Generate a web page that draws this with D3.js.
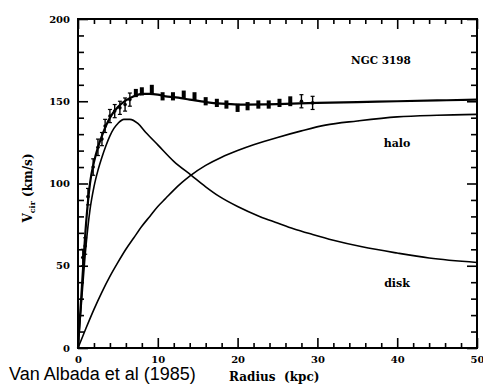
<!DOCTYPE html>
<html>
<head>
<meta charset="utf-8">
<script src="https://cdn.jsdelivr.net/npm/d3@7"></script>
<style>
  body { margin: 0; background: #fff; }
  svg { display: block; }
  .tick text { font-family: "DejaVu Serif", serif; font-weight: bold; font-size: 10px; }
  .lbl { font-family: "DejaVu Serif", serif; font-weight: bold; }
</style>
</head>
<body>
<div id="chart"></div>
<script>
// observed rotation curve (radius kpc, Vcir km/s, error km/s)
var obsRadius = [0.6, 0.9, 1.25, 1.9, 2.5, 3.0, 3.4, 4.0, 4.6, 5.25, 5.9, 6.5, 7.25, 8.0, 9.25,
  10.6, 11.9, 13.25, 14.6, 16.0, 17.4, 18.6, 20.0, 21.25, 22.6, 23.9, 25.25, 26.6, 28.0, 29.4];
var obsV = [55, 62, 92, 110, 122, 127, 135, 141, 144, 146, 148, 151, 155, 156, 157,
  153, 153, 154, 153, 150, 149, 148, 146, 147, 148, 148, 149, 150, 150, 149];
var obsErr = [5, 5, 5, 5, 5, 4, 4, 4, 4, 4, 4, 4, 2.5, 2.5, 3,
  2.5, 2.5, 2.5, 2.5, 2.5, 2.5, 2.5, 2.5, 2.5, 2.5, 2.5, 2.5, 3, 4, 4];

// model curves
var totalR = [0, 0.5, 1, 1.5, 2, 2.5, 3, 3.5, 4, 5, 6, 7, 8, 9, 10, 11, 12, 14, 16, 18, 20, 25, 30, 35, 40, 45, 50];
var totalV = [0, 38, 75, 100, 113, 122, 129, 135, 140, 146.5, 150.5, 153, 154.5, 154.5, 154, 153, 152.5, 151, 149.5, 148.5, 148, 148.3, 149, 149.5, 150, 150.5, 151];

var diskR = [0, 0.5, 1, 1.5, 2, 2.5, 3, 3.5, 4, 4.5, 5, 5.75, 6.5, 7.5, 8.5, 10, 12, 14.2, 16, 17.75, 20, 22.75, 25, 27, 29.4, 32, 35.6, 40, 44, 50];
var diskV = [0, 32, 62, 84, 98, 108, 116, 123, 129, 133.5, 136.5, 139, 139, 136.5, 131, 123.5, 113.5, 105, 98, 92, 86, 80, 76, 72.5, 69, 65.5, 61.5, 57.7, 54.7, 52];

var haloR = [0, 1, 2, 3, 4, 5, 6, 7, 8, 9, 10, 11, 12, 13, 14, 16, 18, 20, 22, 25, 28, 31, 35, 40, 45, 50];
var haloV = [0, 12, 23.5, 34, 43.5, 52, 60, 67, 74, 80, 86, 91, 96, 100.5, 104.5, 111, 116, 120, 123.5, 128, 132, 135.5, 138, 140.5, 141.5, 142];

var xMajor = [0, 10, 20, 30, 40, 50];
var yMajor = [0, 50, 100, 150, 200];

var W = 483, H = 385;
var margin = { top: 19, right: 6, bottom: 37, left: 78 };

var svg = d3.select("#chart").append("svg")
  .attr("width", W)
  .attr("height", H);

var x = d3.scaleLinear().domain([0, 50]).range([margin.left, W - margin.right]);
var y = d3.scaleLinear().domain([0, 200]).range([H - margin.bottom, margin.top]);

var xMinor = d3.range(0, 51, 2).filter(function (d) { return d % 10 !== 0; });
var yMinor = d3.range(0, 201, 10).filter(function (d) { return d % 50 !== 0; });

// frame
svg.append("rect")
  .attr("x", x(0)).attr("y", y(200))
  .attr("width", x(50) - x(0)).attr("height", y(0) - y(200))
  .attr("fill", "none").attr("stroke", "#000").attr("stroke-width", 2);

function styleAxis(g) {
  g.select(".domain").remove();
  g.selectAll(".tick line").attr("stroke", "#000").attr("stroke-width", 1.6);
}

// bottom axis
svg.append("g").attr("transform", "translate(0," + y(0) + ")")
  .call(d3.axisBottom(x).tickValues(xMajor).tickSize(-10).tickPadding(8).tickFormat(d3.format("d")))
  .call(styleAxis);
svg.append("g").attr("transform", "translate(0," + y(0) + ")")
  .call(d3.axisBottom(x).tickValues(xMinor).tickSize(-5).tickFormat(""))
  .call(styleAxis);
// top axis
svg.append("g").attr("transform", "translate(0," + y(200) + ")")
  .call(d3.axisTop(x).tickValues(xMajor).tickSize(-10).tickFormat(""))
  .call(styleAxis);
svg.append("g").attr("transform", "translate(0," + y(200) + ")")
  .call(d3.axisTop(x).tickValues(xMinor).tickSize(-5).tickFormat(""))
  .call(styleAxis);
// left axis
svg.append("g").attr("transform", "translate(" + x(0) + ",0)")
  .call(d3.axisLeft(y).tickValues(yMajor).tickSize(-10).tickPadding(8).tickFormat(d3.format("d")))
  .call(styleAxis);
svg.append("g").attr("transform", "translate(" + x(0) + ",0)")
  .call(d3.axisLeft(y).tickValues(yMinor).tickSize(-6).tickFormat(""))
  .call(styleAxis);
// right axis
svg.append("g").attr("transform", "translate(" + x(50) + ",0)")
  .call(d3.axisRight(y).tickValues(yMajor).tickSize(-10).tickFormat(""))
  .call(styleAxis);
svg.append("g").attr("transform", "translate(" + x(50) + ",0)")
  .call(d3.axisRight(y).tickValues(yMinor).tickSize(-6).tickFormat(""))
  .call(styleAxis);

// model curves
var line = d3.line()
  .x(function (d) { return x(d[0]); })
  .y(function (d) { return y(d[1]); })
  .curve(d3.curveMonotoneX);

function curve(rs, vs, w) {
  svg.append("path")
    .datum(d3.zip(rs, vs))
    .attr("d", line)
    .attr("fill", "none")
    .attr("stroke", "#000")
    .attr("stroke-width", w);
}
curve(diskR, diskV, 1.6);
curve(haloR, haloV, 1.6);
curve(totalR, totalV, 2.2);

// observed points
var obs = d3.zip(obsRadius, obsV, obsErr);
var pts = svg.append("g").selectAll("g").data(obs).enter().append("g");

pts.filter(function (d) { return d[2] < 4; })
  .append("rect")
  .attr("x", function (d) { return x(d[0]) - 2; })
  .attr("y", function (d) { return y(d[1] + d[2]); })
  .attr("width", 4)
  .attr("height", function (d) { return y(d[1] - d[2]) - y(d[1] + d[2]); })
  .attr("fill", "#000");

var capped = pts.filter(function (d) { return d[2] >= 4; });
capped.append("line")
  .attr("x1", function (d) { return x(d[0]); })
  .attr("x2", function (d) { return x(d[0]); })
  .attr("y1", function (d) { return y(d[1] + d[2]); })
  .attr("y2", function (d) { return y(d[1] - d[2]); })
  .attr("stroke", "#000").attr("stroke-width", 1.4);
[1, -1].forEach(function (s) {
  capped.append("line")
    .attr("x1", function (d) { return x(d[0]) - 2; })
    .attr("x2", function (d) { return x(d[0]) + 2; })
    .attr("y1", function (d) { return y(d[1] + s * d[2]); })
    .attr("y2", function (d) { return y(d[1] + s * d[2]); })
    .attr("stroke", "#000").attr("stroke-width", 1.2);
});
capped.append("circle")
  .attr("cx", function (d) { return x(d[0]); })
  .attr("cy", function (d) { return y(d[1]); })
  .attr("r", 1.8)
  .attr("fill", "#000");

// labels
svg.append("text").attr("class", "lbl")
  .attr("x", 381).attr("y", 64).attr("text-anchor", "middle")
  .style("font-size", "10.5px").text("NGC 3198");
svg.append("text").attr("class", "lbl")
  .attr("x", 397).attr("y", 147).attr("text-anchor", "middle")
  .style("font-size", "11px").text("halo");
svg.append("text").attr("class", "lbl")
  .attr("x", 397).attr("y", 287).attr("text-anchor", "middle")
  .style("font-size", "11px").text("disk");

var xt = svg.append("text").attr("class", "lbl")
  .attr("y", 381).style("font-size", "12px");
xt.append("tspan").attr("x", 229).text("Radius");
xt.append("tspan").attr("x", 284).text("(kpc)");

var yt = svg.append("text").attr("class", "lbl")
  .attr("transform", "translate(32,188) rotate(-90)")
  .attr("text-anchor", "middle")
  .style("font-size", "12px");
yt.append("tspan").text("V");
yt.append("tspan").attr("dy", 3).style("font-size", "8px").text("cir");
yt.append("tspan").attr("dy", -3).text(" (km/s)");

svg.append("text")
  .attr("x", 9).attr("y", 380)
  .style("font-family", "Liberation Sans, Arial, sans-serif")
  .style("font-size", "18px")
  .text("Van Albada et al (1985)");
</script>
</body>
</html>
